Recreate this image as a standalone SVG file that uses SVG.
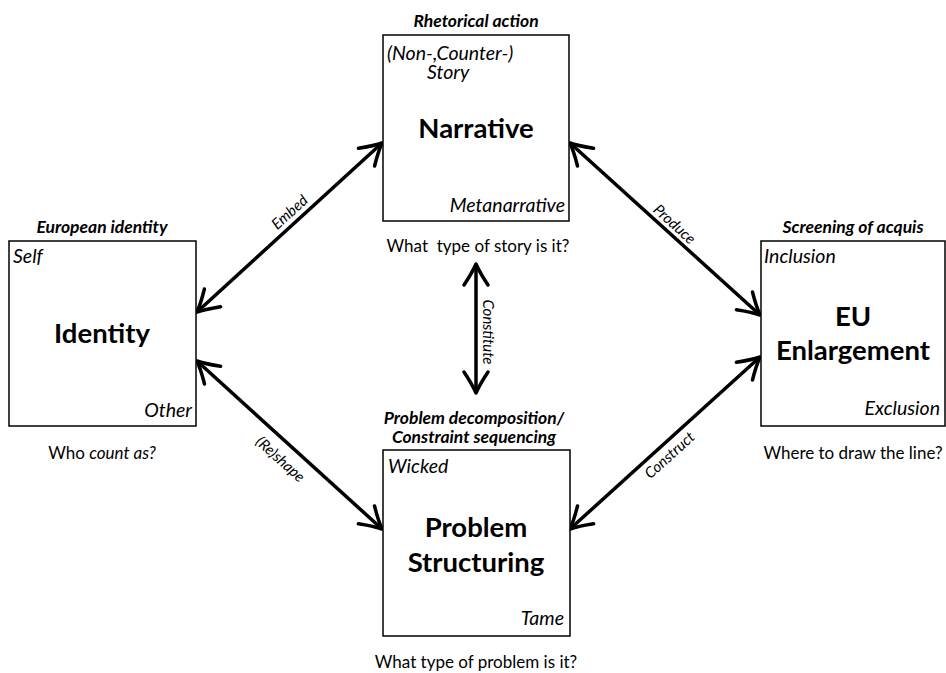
<svg xmlns="http://www.w3.org/2000/svg" width="946" height="673" viewBox="0 0 946 673">
<style>
text{font-family:Lato,"Liberation Sans",sans-serif;fill:#000}
.box{fill:#fff;stroke:#000;stroke-width:1.5}
.title{font-size:27.5px;font-weight:bold;text-anchor:middle}
.head{font-size:17.5px;font-weight:bold;font-style:italic;text-anchor:middle}
.corner{font-size:19.5px;font-style:italic}
.q{font-size:17px;text-anchor:middle}
.lab{font-size:15px;font-style:italic;text-anchor:middle}
.arr{stroke:#000;stroke-width:3.5;fill:none;marker-start:url(#ah);marker-end:url(#ah)}
</style>
<defs>
<marker id="ah" markerUnits="userSpaceOnUse" orient="auto-start-reverse" viewBox="-26 -15 30 30" refX="0" refY="0" markerWidth="30" markerHeight="30">
<path d="M-21,-12 Q-9,-4 0,0 Q-9,4 -21,12" fill="none" stroke="#000" stroke-width="3.5" stroke-linecap="round" stroke-linejoin="round"/>
</marker>
</defs>
<g id="connectors">
<line class="arr" x1="197" y1="312" x2="382" y2="143"/>
<line class="arr" x1="570" y1="143" x2="760" y2="315"/>
<line class="arr" x1="197" y1="361" x2="382" y2="529"/>
<line class="arr" x1="570" y1="529" x2="760" y2="357"/>
<line class="arr" x1="476" y1="264" x2="476" y2="393"/>
<text class="lab" transform="translate(293,216) rotate(-42)">Embed</text>
<text class="lab" transform="translate(671,228) rotate(42)">Produce</text>
<text class="lab" transform="translate(277,463) rotate(42)">(Re)shape</text>
<text class="lab" transform="translate(673,459) rotate(-42)">Construct</text>
<text class="lab" transform="translate(483,332) rotate(90)">Constitute</text>
</g>
<g id="narrative">
<text class="head" x="476" y="27">Rhetorical action</text>
<rect class="box" x="383" y="35" width="186" height="186"/>
<text class="corner" x="387" y="60">(Non-,Counter-)</text>
<text class="corner" x="427" y="79">Story</text>
<text class="title" x="476" y="138">Narrative</text>
<text class="corner" x="565" y="212" text-anchor="end">Metanarrative</text>
<text class="q" x="478" y="252" xml:space="preserve">What  type of story is it?</text>
</g>
<g id="identity">
<text class="head" x="102" y="233">European identity</text>
<rect class="box" x="9" y="241" width="187" height="185"/>
<text class="corner" x="13" y="263">Self</text>
<text class="title" x="102" y="343">Identity</text>
<text class="corner" x="192" y="417" text-anchor="end">Other</text>
<text class="q" x="102" y="459">Who <tspan font-style="italic">count as?</tspan></text>
</g>
<g id="enlargement">
<text class="head" x="853" y="233">Screening of acquis</text>
<rect class="box" x="761" y="241" width="184" height="185"/>
<text class="corner" x="764" y="263">Inclusion</text>
<text class="title" x="853" y="326">EU</text>
<text class="title" x="853" y="360">Enlargement</text>
<text class="corner" x="940" y="415" text-anchor="end">Exclusion</text>
<text class="q" x="853" y="459">Where to draw the line?</text>
</g>
<g id="problem">
<text class="head" x="474" y="424">Problem decomposition/</text>
<text class="head" x="474" y="443">Constraint sequencing</text>
<rect class="box" x="383" y="450" width="187" height="186"/>
<text class="corner" x="388" y="473">Wicked</text>
<text class="title" x="476" y="537">Problem</text>
<text class="title" x="476" y="572">Structuring</text>
<text class="corner" x="564" y="625" text-anchor="end">Tame</text>
<text class="q" x="476" y="668">What type of problem is it?</text>
</g>
</svg>
